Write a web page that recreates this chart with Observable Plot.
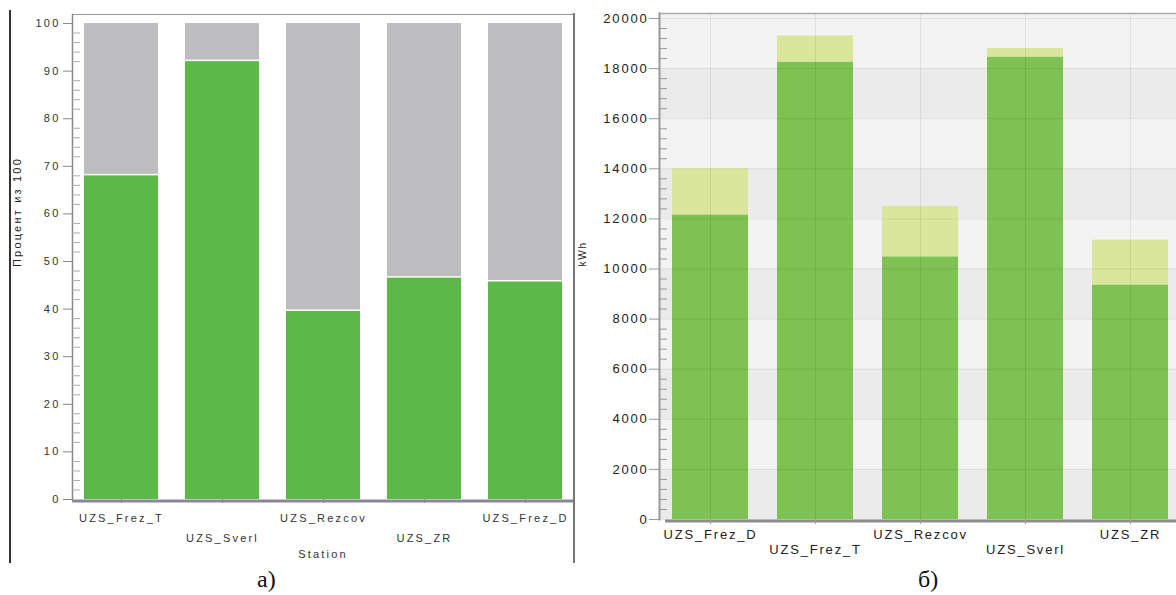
<!DOCTYPE html>
<html><head><meta charset="utf-8">
<script src="https://cdn.jsdelivr.net/npm/d3@7"></script>
<script src="https://cdn.jsdelivr.net/npm/@observablehq/plot@0.6"></script>
<style>
body{margin:0;background:#fff;overflow:hidden}
#wrap{position:relative;width:1176px;height:595px;overflow:hidden;background:#fff}
.panel{position:absolute;top:0}
.cap{position:absolute;font-family:"Liberation Serif","Times New Roman",serif;font-size:24px;color:#111;line-height:1}
.line{position:absolute}
</style></head><body>
<div id="wrap">
 <div id="a" class="panel" style="left:0;width:600px"></div>
 <div id="b" class="panel" style="left:575px;width:620px"></div>
 <div class="line" style="left:9px;top:10px;width:1.5px;height:553px;background:#333"></div>
 <div class="line" style="left:573px;top:13px;width:2px;height:550px;background:#777"></div>
 <div class="cap" style="left:257px;top:567px">а)</div>
 <div class="cap" style="left:918px;top:567px">б)</div>
</div>
<script>
// ---- panel a) : share of time, percent of 100 ----
const stationsA = ["UZS_Frez_T", "UZS_Sverl", "UZS_Rezcov", "UZS_ZR", "UZS_Frez_D"];
const percentA = [68, 92, 39.5, 46.5, 45.7];
const percentMax = 100;
const yTicksA = [0, 10, 20, 30, 40, 50, 60, 70, 80, 90, 100];

// ---- panel б) : energy, kWh ----
const stationsB = ["UZS_Frez_D", "UZS_Frez_T", "UZS_Rezcov", "UZS_Sverl", "UZS_ZR"];
const kwhBase = [12150, 18250, 10480, 18450, 9350];
const kwhTotal = [14000, 19300, 12500, 18800, 11150];
const yTicksB = [0, 2000, 4000, 6000, 8000, 10000, 12000, 14000, 16000, 18000, 20000];

const dataA = stationsA.map((s, i) => ({station: s, pct: percentA[i]}));
const dataB = stationsB.map((s, i) => ({station: s, base: kwhBase[i], total: kwhTotal[i]}));

const minorA = d3.range(0, 101, 2).filter(v => v % 10 !== 0);
const plotA = Plot.plot({
  width: 600, height: 575,
  marginLeft: 72, marginRight: 27, marginTop: 14, marginBottom: 76,
  style: {fontFamily: "'Liberation Sans', Arial, sans-serif", fontSize: "11px", color: "#333",
          letterSpacing: "2.2px", maxWidth: "none", background: "transparent"},
  x: {domain: stationsA, paddingInner: 0.27, paddingOuter: 0.11, axis: null},
  y: {domain: [0, 101.9], axis: null},
  marks: [
    Plot.barY(dataA, {x: "station", y1: "pct", y2: () => percentMax, fill: "#bdbdbf", insetBottom: 1.5}),
    Plot.barY(dataA, {x: "station", y: "pct", fill: "#5cb947"}),
    Plot.frame({anchor: "top", stroke: "#999"}),
    Plot.frame({anchor: "left", stroke: "#888", strokeWidth: 1.5}),
    Plot.ruleY([0], {stroke: "#8a8696", strokeWidth: 3, dy: 1.5}),
    Plot.axisY({ticks: yTicksA, tickSize: 9, tickPadding: 3, label: null, stroke: "#888"}),
    Plot.axisY(minorA, {tickSize: 8, dx: 8, fill: "none", stroke: "#aaa", label: null}),
    Plot.axisX(stationsA.filter((d, i) => i % 2 === 0), {tickSize: 4, tickPadding: 10.5, label: null, stroke: "#888"}),
    Plot.axisX(stationsA.filter((d, i) => i % 2 === 1), {tickSize: 4, tickPadding: 30.5, label: null, stroke: "#888"}),
    Plot.text(["Station"], {frameAnchor: "bottom", dy: 58, fill: "#333"}),
    Plot.text(["Процент из 100"], {frameAnchor: "left", rotate: -90, dx: -55, dy: 10, fill: "#222"})
  ]
});
document.getElementById("a").append(plotA);

const minorB = d3.range(0, 20001, 400).filter(v => v % 2000 !== 0);
const darkBands = d3.range(0, 20000, 4000);
const plotB = Plot.plot({
  width: 620, height: 575,
  marginLeft: 84, marginRight: 13, marginTop: 13, marginBottom: 56,
  style: {fontFamily: "'Liberation Sans', Arial, sans-serif", fontSize: "13px", color: "#222",
          letterSpacing: "1.8px", maxWidth: "none", background: "transparent"},
  x: {domain: stationsB, paddingInner: 0.273, paddingOuter: 0.124, axis: null},
  y: {domain: [0, 20200], axis: null},
  marks: [
    Plot.frame({fill: "#f3f3f3", stroke: null}),
    Plot.rect(darkBands, {y1: d => d, y2: d => d + 2000, fill: "#ebebeb"}),
    Plot.barY(dataB, {x: "station", y1: "base", y2: "total", fill: "#d9e69b"}),
    Plot.barY(dataB, {x: "station", y: "base", fill: "#7dc252"}),
    Plot.gridY(yTicksB, {stroke: "#000", strokeOpacity: 0.07}),
    Plot.gridX({stroke: "#000", strokeOpacity: 0.08}),
    Plot.frame({anchor: "top", stroke: "#aaa", strokeWidth: 1.5}),
    Plot.frame({anchor: "left", stroke: "#999", strokeWidth: 2}),
    Plot.ruleY([0], {stroke: "#8c8c8c", strokeWidth: 3, dy: 1.5, insetLeft: 6}),
    Plot.axisY({ticks: yTicksB, tickSize: 10, tickPadding: 1, tickFormat: d3.format("d"), label: null, stroke: "#999"}),
    Plot.axisY(minorB, {tickSize: 7, dx: 8, fill: "none", stroke: "#999", label: null}),
    Plot.axisX(stationsB.filter((d, i) => i % 2 === 0), {tickSize: 5, tickPadding: 5, label: null, stroke: "#999"}),
    Plot.axisX(stationsB.filter((d, i) => i % 2 === 1), {tickSize: 5, tickPadding: 20, label: null, stroke: "#999"}),
    Plot.text(["kWh"], {frameAnchor: "left", rotate: -90, dx: -77, fontSize: 10, fill: "#222"})
  ]
});
document.getElementById("b").append(plotB);
</script>
</body></html>
